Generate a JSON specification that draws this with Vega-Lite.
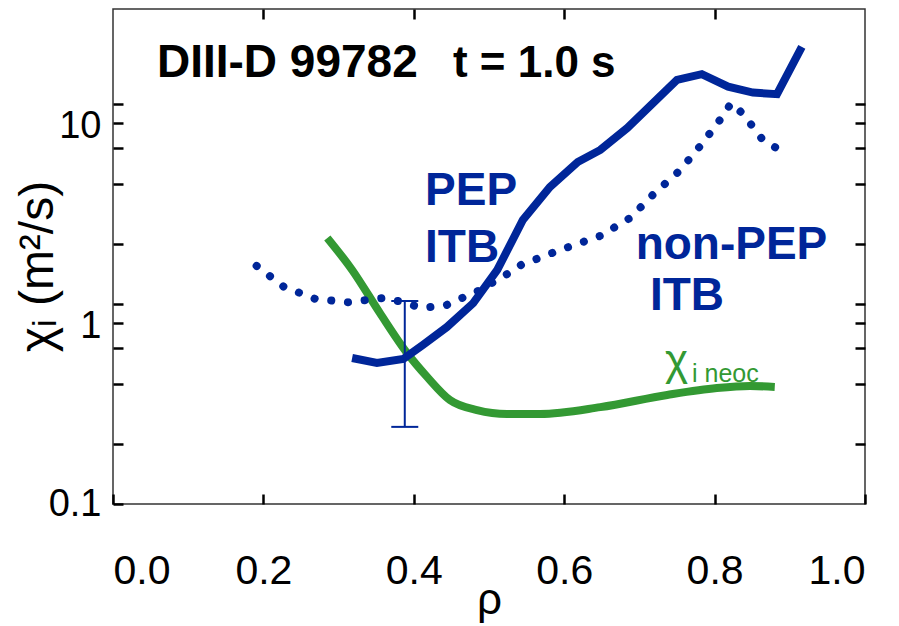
{
  "$schema": "https://vega.github.io/schema/vega-lite/v6.json",
  "width": 752,
  "height": 495,
  "autosize": {"type": "none"},
  "padding": {"left": 113, "top": 9, "right": 34, "bottom": 122},
  "background": "white",
  "config": {
    "view": {"stroke": "#333333", "strokeWidth": 1.5},
    "font": "Liberation Sans",
    "axis": {
      "grid": false,
      "domain": false,
      "tickColor": "black",
      "tickWidth": 2.5,
      "tickSize": -10,
      "labelFont": "Liberation Sans",
      "titleFont": "Liberation Sans",
      "labelColor": "black",
      "titleColor": "black",
      "titleFontWeight": "normal"
    }
  },
  "datasets": {
    "pep": [
      {"rho": 0.318, "chi": 0.537}, {"rho": 0.351, "chi": 0.507}, {"rho": 0.386, "chi": 0.531},
      {"rho": 0.412, "chi": 0.624}, {"rho": 0.444, "chi": 0.767}, {"rho": 0.479, "chi": 1.01},
      {"rho": 0.511, "chi": 1.48}, {"rho": 0.545, "chi": 2.63}, {"rho": 0.581, "chi": 3.85},
      {"rho": 0.618, "chi": 5.13}, {"rho": 0.648, "chi": 5.89}, {"rho": 0.684, "chi": 7.59},
      {"rho": 0.75, "chi": 13.2}, {"rho": 0.783, "chi": 14.1}, {"rho": 0.818, "chi": 12.2},
      {"rho": 0.851, "chi": 11.4}, {"rho": 0.883, "chi": 11.2}, {"rho": 0.916, "chi": 19.3}
    ],
    "nonpep": [
      {"rho": 0.191, "chi": 1.55}, {"rho": 0.227, "chi": 1.22}, {"rho": 0.269, "chi": 1.06},
      {"rho": 0.3125, "chi": 1.02}, {"rho": 0.358, "chi": 1.07}, {"rho": 0.379, "chi": 1.035},
      {"rho": 0.411, "chi": 0.955}, {"rho": 0.444, "chi": 0.99}, {"rho": 0.485, "chi": 1.16},
      {"rho": 0.524, "chi": 1.41}, {"rho": 0.543, "chi": 1.57}, {"rho": 0.594, "chi": 1.86},
      {"rho": 0.648, "chi": 2.19}, {"rho": 0.6875, "chi": 2.69}, {"rho": 0.719, "chi": 3.55},
      {"rho": 0.753, "chi": 4.62}, {"rho": 0.782, "chi": 6.24}, {"rho": 0.809, "chi": 8.51},
      {"rho": 0.822, "chi": 10.1}, {"rho": 0.838, "chi": 8.91}, {"rho": 0.864, "chi": 6.61},
      {"rho": 0.882, "chi": 6.03}
    ],
    "neoc": [
      {"rho": 0.285, "chi": 2.14}, {"rho": 0.318, "chi": 1.48}, {"rho": 0.355, "chi": 0.9},
      {"rho": 0.391, "chi": 0.569}, {"rho": 0.418, "chi": 0.431}, {"rho": 0.448, "chi": 0.331},
      {"rho": 0.484, "chi": 0.295}, {"rho": 0.524, "chi": 0.282}, {"rho": 0.568, "chi": 0.282},
      {"rho": 0.648, "chi": 0.305}, {"rho": 0.737, "chi": 0.351}, {"rho": 0.803, "chi": 0.38},
      {"rho": 0.847, "chi": 0.389}, {"rho": 0.88, "chi": 0.385}
    ],
    "err": [{"rho": 0.388, "lo": 0.243, "hi": 1.035}]
  },
  "layer": [
    {
      "data": {"name": "neoc"},
      "mark": {"type": "line", "color": "#339933", "strokeWidth": 8, "interpolate": "monotone"},
      "encoding": {
        "x": {"field": "rho", "type": "quantitative",
          "scale": {"domain": [0, 1], "nice": false, "zero": false},
          "axis": {"orient": "bottom", "values": [0, 0.2, 0.4, 0.6, 0.8, 1], "format": ".1f",
            "labelFontSize": 41, "labelPadding": 57, "title": "ρ", "titleFontSize": 44,
            "titleBaseline": "alphabetic", "titleY": 109}},
        "y": {"field": "chi", "type": "quantitative",
          "scale": {"type": "log", "domain": [0.1, 29.85], "nice": false},
          "axis": {"orient": "left", "values": [0.1, 0.2, 0.4, 0.6, 0.8, 1, 2, 4, 6, 8, 10],
            "labelExpr": "datum.value == 0.1 || datum.value == 1 || datum.value == 10 ? format(datum.value, '~g') : ''",
            "labelFontSize": 38, "labelPadding": 22,
            "labelOffset": {"condition": {"test": "datum.value < 0.5", "value": 0}, "value": 23},
            "title": "χᵢ (m²/s)", "titleFontSize": 48, "titleAngle": -90,
            "titleBaseline": "middle", "titleX": -75, "titleY": 257}}
      }
    },
    {
      "data": {"name": "nonpep"},
      "mark": {"type": "line", "color": "#002699", "strokeWidth": 8, "strokeDash": [0.1, 16.7], "strokeCap": "round"},
      "encoding": {
        "x": {"field": "rho", "type": "quantitative",
          "axis": {"orient": "top", "values": [0.2, 0.4, 0.6, 0.8], "labels": false, "title": null}},
        "y": {"field": "chi", "type": "quantitative",
          "axis": {"orient": "right", "values": [0.2, 0.4, 0.6, 0.8, 1, 2, 4, 6, 8, 10], "labels": false, "title": null}}
      }
    },
    {
      "data": {"name": "pep"},
      "mark": {"type": "line", "color": "#002699", "strokeWidth": 8},
      "encoding": {
        "x": {"field": "rho", "type": "quantitative", "axis": null},
        "y": {"field": "chi", "type": "quantitative", "axis": null}
      }
    },
    {
      "data": {"name": "err"},
      "mark": {"type": "rule", "color": "#002699", "strokeWidth": 2},
      "encoding": {
        "x": {"field": "rho", "type": "quantitative", "axis": null},
        "y": {"field": "lo", "type": "quantitative", "axis": null},
        "y2": {"field": "hi"}
      }
    },
    {
      "data": {"name": "err"},
      "mark": {"type": "tick", "orient": "horizontal", "color": "#002699", "size": 27, "thickness": 2, "opacity": 1},
      "encoding": {
        "x": {"field": "rho", "type": "quantitative", "axis": null},
        "y": {"field": "lo", "type": "quantitative", "axis": null}
      }
    },
    {
      "data": {"name": "err"},
      "mark": {"type": "tick", "orient": "horizontal", "color": "#002699", "size": 27, "thickness": 2, "opacity": 1},
      "encoding": {
        "x": {"field": "rho", "type": "quantitative", "axis": null},
        "y": {"field": "hi", "type": "quantitative", "axis": null}
      }
    },
    {
      "data": {"values": [{"rho": 0.0585, "chi": 13.6, "label": "DIII-D 99782"}]},
      "mark": {"type": "text", "align": "left", "baseline": "alphabetic", "fontSize": 46, "fontWeight": "bold", "color": "black"},
      "encoding": {
        "x": {"field": "rho", "type": "quantitative", "axis": null},
        "y": {"field": "chi", "type": "quantitative", "axis": null},
        "text": {"field": "label"}
      }
    },
    {
      "data": {"values": [{"rho": 0.452, "chi": 13.6, "label": "t = 1.0 s"}]},
      "mark": {"type": "text", "align": "left", "baseline": "alphabetic", "fontSize": 44, "fontWeight": "bold", "color": "black"},
      "encoding": {
        "x": {"field": "rho", "type": "quantitative", "axis": null},
        "y": {"field": "chi", "type": "quantitative", "axis": null},
        "text": {"field": "label"}
      }
    },
    {
      "data": {"values": [
        {"rho": 0.415, "chi": 3.13, "label": "PEP"},
        {"rho": 0.415, "chi": 1.62, "label": "ITB"},
        {"rho": 0.695, "chi": 1.68, "label": "non-PEP"},
        {"rho": 0.714, "chi": 0.933, "label": "ITB"}
      ]},
      "mark": {"type": "text", "align": "left", "baseline": "alphabetic", "fontSize": 46, "fontWeight": "bold", "color": "#002699"},
      "encoding": {
        "x": {"field": "rho", "type": "quantitative", "axis": null},
        "y": {"field": "chi", "type": "quantitative", "axis": null},
        "text": {"field": "label"}
      }
    },
    {
      "data": {"values": [{"rho": 0.734, "chi": 0.44, "label": "χ"}]},
      "mark": {"type": "text", "align": "left", "baseline": "alphabetic", "fontSize": 44, "color": "#339933"},
      "encoding": {
        "x": {"field": "rho", "type": "quantitative", "axis": null},
        "y": {"field": "chi", "type": "quantitative", "axis": null},
        "text": {"field": "label"}
      }
    },
    {
      "data": {"values": [{"rho": 0.77, "chi": 0.407, "label": "i  neoc"}]},
      "mark": {"type": "text", "align": "left", "baseline": "alphabetic", "fontSize": 25, "color": "#339933"},
      "encoding": {
        "x": {"field": "rho", "type": "quantitative", "axis": null},
        "y": {"field": "chi", "type": "quantitative", "axis": null},
        "text": {"field": "label"}
      }
    }
  ],
  "resolve": {"axis": {"x": "independent", "y": "independent"}}
}
